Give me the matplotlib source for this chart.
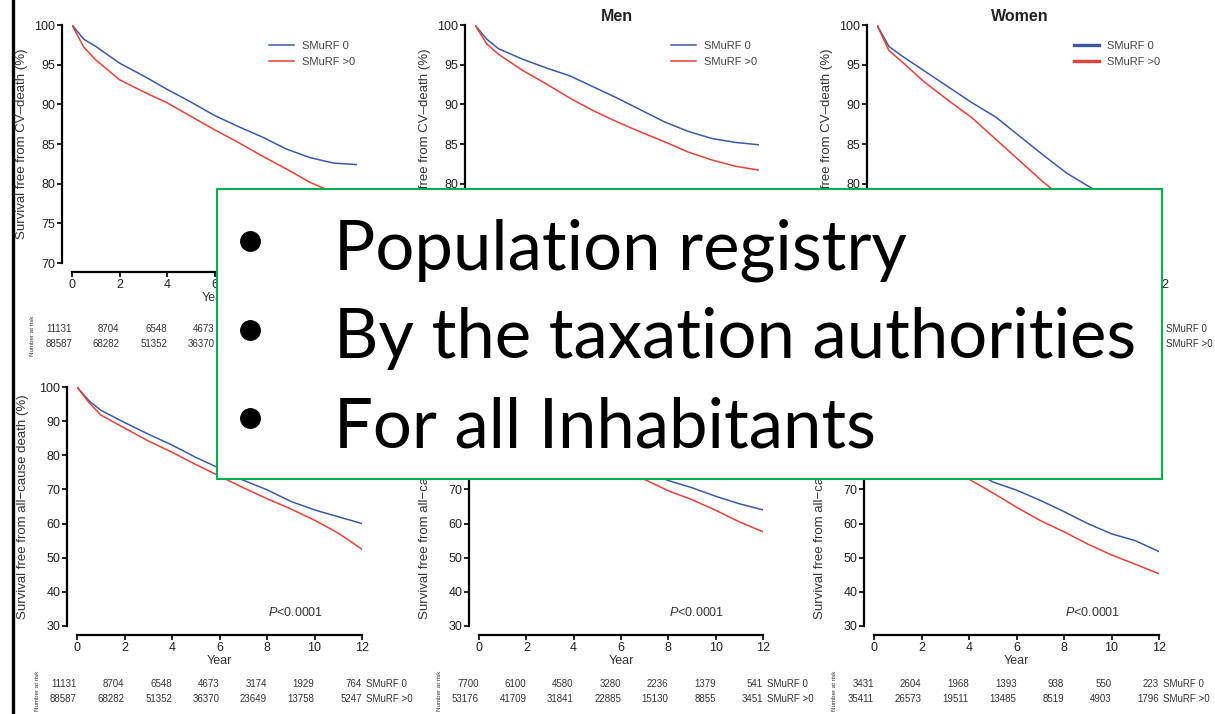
import matplotlib.pyplot as plt
from matplotlib.patches import Rectangle
from matplotlib.lines import Line2D
from matplotlib.transforms import blended_transform_factory

plt.rcParams['font.family'] = ['Liberation Sans', 'DejaVu Sans']
plt.rcParams['mathtext.fontset'] = 'custom'
plt.rcParams['mathtext.it'] = 'Liberation Sans:italic'
plt.rcParams['mathtext.rm'] = 'Liberation Sans'

W, H = 1215, 714
BLUE = '#3a5aa8'
RED = '#e5413b'

# survival curves (years, %)
years = [0, 0.5, 1, 2, 3, 4, 5, 6, 7, 8, 9, 10, 11, 12]

cv_all_0 = [100, 98.2, 97.3, 95.2, 93.6, 91.9, 90.3, 88.6, 87.2, 85.9, 84.4, 83.3, 82.6, 82.4]
cv_all_1 = [100, 97.2, 95.6, 93.1, 91.6, 90.2, 88.5, 86.8, 85.2, 83.5, 81.9, 80.2, 78.9, 78.0]
cv_men_0 = [100, 98.2, 97.0, 95.7, 94.6, 93.6, 92.2, 90.8, 89.3, 87.8, 86.6, 85.7, 85.2, 84.9]
cv_men_1 = [100, 97.6, 96.3, 94.3, 92.6, 90.8, 89.2, 87.8, 86.5, 85.3, 84.0, 83.0, 82.2, 81.7]
cv_wom_0 = [100, 97.3, 96.2, 94.2, 92.2, 90.2, 88.4, 86.0, 83.6, 81.3, 79.5, 78.0, 76.5, 75.5]
cv_wom_1 = [100, 96.8, 95.5, 92.8, 90.5, 88.3, 85.6, 82.9, 80.2, 77.8, 75.5, 73.5, 71.5, 70.0]

ac_all_0 = [100, 96.0, 93.2, 89.6, 86.2, 83.0, 79.4, 76.2, 72.7, 69.9, 66.5, 64.0, 62.0, 60.0]
ac_all_1 = [100, 95.5, 91.8, 88.0, 84.2, 80.9, 77.3, 73.9, 70.5, 67.3, 64.3, 61.0, 57.2, 52.5]
ac_men_0 = [100, 96.5, 94.3, 91.0, 88.0, 85.0, 82.0, 78.8, 75.5, 72.6, 70.5, 68.0, 65.8, 64.0]
ac_men_1 = [100, 96.0, 93.0, 89.5, 86.0, 82.5, 79.0, 75.8, 72.9, 69.6, 67.0, 63.9, 60.5, 57.6]
ac_wom_0 = [100, 92.5, 89.5, 85.0, 80.8, 76.4, 72.2, 69.8, 66.8, 63.5, 60.0, 57.0, 55.0, 51.8]
ac_wom_1 = [100, 92.0, 88.0, 82.5, 77.5, 73.0, 69.0, 64.8, 60.9, 57.6, 54.0, 50.8, 48.1, 45.3]

# numbers at risk
risk_years = [0, 2, 4, 6, 8, 10, 12]
risk_all_0 = [11131, 8704, 6548, 4673, 3174, 1929, 764]
risk_all_1 = [88587, 68282, 51352, 36370, 23649, 13758, 5247]
risk_men_0 = [7700, 6100, 4580, 3280, 2236, 1379, 541]
risk_men_1 = [53176, 41709, 31841, 22885, 15130, 8855, 3451]
risk_wom_0 = [3431, 2604, 1968, 1393, 938, 550, 223]
risk_wom_1 = [35411, 26573, 19511, 13485, 8519, 4903, 1796]

bullets = ['Population registry', 'By the taxation authorities', 'For all Inhabitants']

fig = plt.figure(figsize=(W / 100, H / 100), dpi=100)


def box(x0, x1, ytop, ybot):
    return [x0 / W, 1 - ybot / H, (x1 - x0) / W, (ybot - ytop) / H]


def panel(pos, s0, s1, ylo, ystep, ylabel, title, r0, r1, ry, pval, leg_lw, ncols=7, side=True, nar=True):
    ax = fig.add_axes(pos)
    ax.plot(years, s0, color=BLUE, lw=1.1, label='SMuRF 0')
    ax.plot(years, s1, color=RED, lw=1.1, label='SMuRF >0')
    ax.set_xlim(0, 12)
    ax.set_ylim(ylo, 100)
    ax.set_xticks(range(0, 13, 2))
    ax.set_yticks(range(ylo, 101, ystep))
    for s in ['top', 'right']:
        ax.spines[s].set_visible(False)
    ax.spines['left'].set_position(('outward', 7))
    ax.spines['bottom'].set_position(('outward', 6.5))
    ax.spines['left'].set_bounds(ylo, 100)
    ax.spines['bottom'].set_bounds(0, 12)
    ax.spines['left'].set_linewidth(1.6)
    ax.spines['bottom'].set_linewidth(1.6)
    ax.tick_params(width=1.4, length=3.5, labelsize=9, colors='#222222', pad=1.5)
    ax.set_ylabel(ylabel, fontsize=9.5, color='#333333')
    ax.set_xlabel('Year', fontsize=9, color='#333333', labelpad=1)
    if title:
        ax.set_title(title, fontsize=11.5, fontweight='bold', pad=3, color='#222222')
    if pval:
        ax.text(9.2, ylo + 2.8, '$\\it{P}$<0.0001', fontsize=9, ha='center', color='#333333')
    if leg_lw:
        leg = ax.legend(loc='upper right', bbox_to_anchor=(1.03, 0.975), frameon=False,
                        fontsize=8, handlelength=2.2, handletextpad=0.8, labelspacing=0.55)
        for ln in leg.get_lines():
            ln.set_linewidth(leg_lw)
        for t in leg.get_texts():
            t.set_color('#444444')
    # number-at-risk table (parts hidden under the text box are skipped)
    tr = blended_transform_factory(ax.transData, fig.transFigure)
    for yr, a, b in list(zip(risk_years, r0, r1))[:ncols]:
        ax.text(yr, 1 - ry / H, str(a), transform=tr, ha='right', va='center', fontsize=7, color='#333333')
        ax.text(yr, 1 - (ry + 15) / H, str(b), transform=tr, ha='right', va='center', fontsize=7, color='#333333')
    if side:
        ax.text(12.15, 1 - ry / H, 'SMuRF 0', transform=tr, ha='left', va='center', fontsize=7, color='#333333')
        ax.text(12.15, 1 - (ry + 15) / H, 'SMuRF >0', transform=tr, ha='left', va='center', fontsize=7, color='#333333')
    if nar:
        ax.text(-1.65, 1 - (ry + 7) / H, 'Number at risk', transform=tr, rotation=90, ha='center', va='center',
                fontsize=4.5, color='#333333')
    return ax


lab_cv = 'Survival free from CV\u2013death (%)'
lab_ac = 'Survival free from all\u2212cause death (%)'

a1 = panel(box(72, 357, 25, 263), cv_all_0, cv_all_1, 70, 5, lab_cv, None, risk_all_0, risk_all_1, 329, False, 1.1,
           ncols=4, side=False)
a2 = panel(box(475, 759, 25, 263), cv_men_0, cv_men_1, 70, 5, lab_cv, 'Men', risk_men_0, risk_men_1, 329, False, 1.1,
           ncols=0, side=False, nar=False)
a3 = panel(box(877, 1162, 25, 263), cv_wom_0, cv_wom_1, 70, 5, lab_cv, 'Women', risk_wom_0, risk_wom_1, 329, False, 2.4,
           ncols=0, nar=False)
a4 = panel(box(77, 362, 387, 626), ac_all_0, ac_all_1, 30, 10, lab_ac, None, risk_all_0, risk_all_1, 684, True, None)
a5 = panel(box(479, 763, 387, 626), ac_men_0, ac_men_1, 30, 10, lab_ac, None, risk_men_0, risk_men_1, 684, True, None)
a6 = panel(box(874, 1159, 387, 626), ac_wom_0, ac_wom_1, 30, 10, lab_ac, None, risk_wom_0, risk_wom_1, 684, True, None)

for ax in [a1, a2, a3]:
    ax.yaxis.set_label_coords(-0.155, 0.5)
for ax in [a4, a5, a6]:
    ax.yaxis.set_label_coords(-0.17, 0.5)

# black bar at the left edge
fig.add_artist(Line2D([13 / W, 13 / W], [0, 1], color='black', lw=2.4, zorder=5))

# overlay text box
fig.add_artist(Rectangle((217 / W, 1 - 479 / H), (1162 - 217) / W, (479 - 189) / H,
                         transform=fig.transFigure, facecolor='white', edgecolor='#00b050',
                         lw=1.5, zorder=10))
for i, line in enumerate(bullets):
    yb = 270 + i * 88.5
    fig.add_artist(Line2D([250 / W], [1 - (yb - 29) / H], marker='o', ms=14, color='black',
                          transform=fig.transFigure, zorder=11))
    fig.text(334 / W, 1 - yb / H, line, fontsize=49.6, family=['Lato', 'DejaVu Sans'],
             va='baseline', zorder=11)

fig.savefig('out.png', dpi=100)
